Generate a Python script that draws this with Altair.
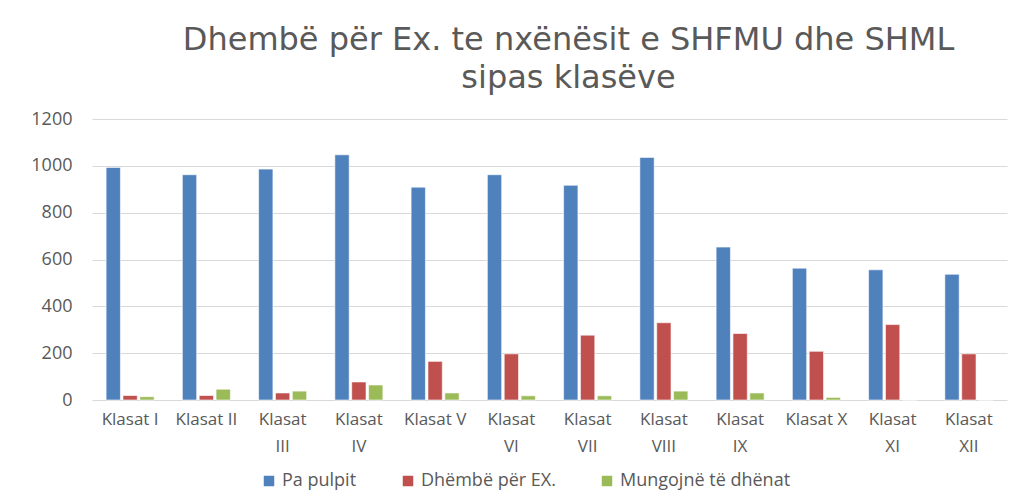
import altair as alt
import pandas as pd

categories = ["Klasat I", "Klasat II", "Klasat III", "Klasat IV", "Klasat V", "Klasat VI",
              "Klasat VII", "Klasat VIII", "Klasat IX", "Klasat X", "Klasat XI", "Klasat XII"]
series = ["Pa pulpit", "Dhëmbë për EX.", "Mungojnë të dhënat"]
pa_pulpit = [993, 962, 986, 1047, 909, 962, 917, 1036, 653, 563, 556, 537]
dhembe = [19, 19, 30, 77, 165, 197, 277, 330, 284, 208, 322, 197]
mungojne = [14, 46, 38, 64, 30, 18, 18, 38, 30, 11, 0, 0]
colors = ["#4F81BD", "#C0504D", "#9BBB59"]

rows = []
for vals, s in zip([pa_pulpit, dhembe, mungojne], series):
    for c, v in zip(categories, vals):
        rows.append({"Klasa": c, "Seria": s, "Vlera": v})
df = pd.DataFrame(rows)

FONT = "Open Sans"
GRAY = "#595959"

label_expr = ("indexof(['Klasat I','Klasat II','Klasat V','Klasat X'], datum.value) >= 0 "
              "? datum.value : split(datum.value, ' ')")

chart = alt.Chart(df).mark_bar(stroke="white", strokeWidth=0.6).encode(
    x=alt.X("Klasa:N", sort=categories, title=None,
            scale=alt.Scale(paddingInner=0.37, paddingOuter=0.185),
            axis=alt.Axis(labelAngle=0, labelExpr=label_expr, labelFont=FONT,
                          labelFontSize=17, labelColor=GRAY, labelPadding=11,
                          labelLineHeight=27, domain=False, ticks=False, grid=False)),
    xOffset=alt.XOffset("Seria:N", sort=series, scale=alt.Scale(paddingInner=0.15)),
    y=alt.Y("Vlera:Q", title=None,
            scale=alt.Scale(domain=[0, 1200], nice=False),
            axis=alt.Axis(values=[0, 200, 400, 600, 800, 1000, 1200], format="d",
                          labelFont=FONT, labelFontSize=18, labelColor=GRAY, labelPadding=20,
                          domain=False, ticks=False, gridColor="#D9D9D9", gridWidth=1.2)),
    color=alt.Color("Seria:N", sort=series,
                    scale=alt.Scale(domain=series, range=colors),
                    legend=alt.Legend(title=None, orient="none", direction="horizontal",
                                      legendX=168, legendY=353, symbolType="square",
                                      symbolSize=110, symbolStrokeWidth=0,
                                      labelFont=FONT, labelFontSize=18, labelColor=GRAY,
                                      labelLimit=400, columnPadding=42, labelOffset=4)),
).properties(
    width=915, height=281,
    padding={"left": 84, "top": 111, "right": 19, "bottom": 93},
    autosize=alt.AutoSizeParams(type="none"),
    title=alt.TitleParams(["Dhembë për Ex. te nxënësit e SHFMU dhe SHML", "sipas klasëve"],
                          font="DejaVu Sans", fontSize=32, fontWeight="normal", color=GRAY,
                          anchor="middle", dx=19, offset=15, lineHeight=38),
).configure_view(stroke=None)

chart.save("out.html", embed_options={"renderer": "svg", "actions": False})
